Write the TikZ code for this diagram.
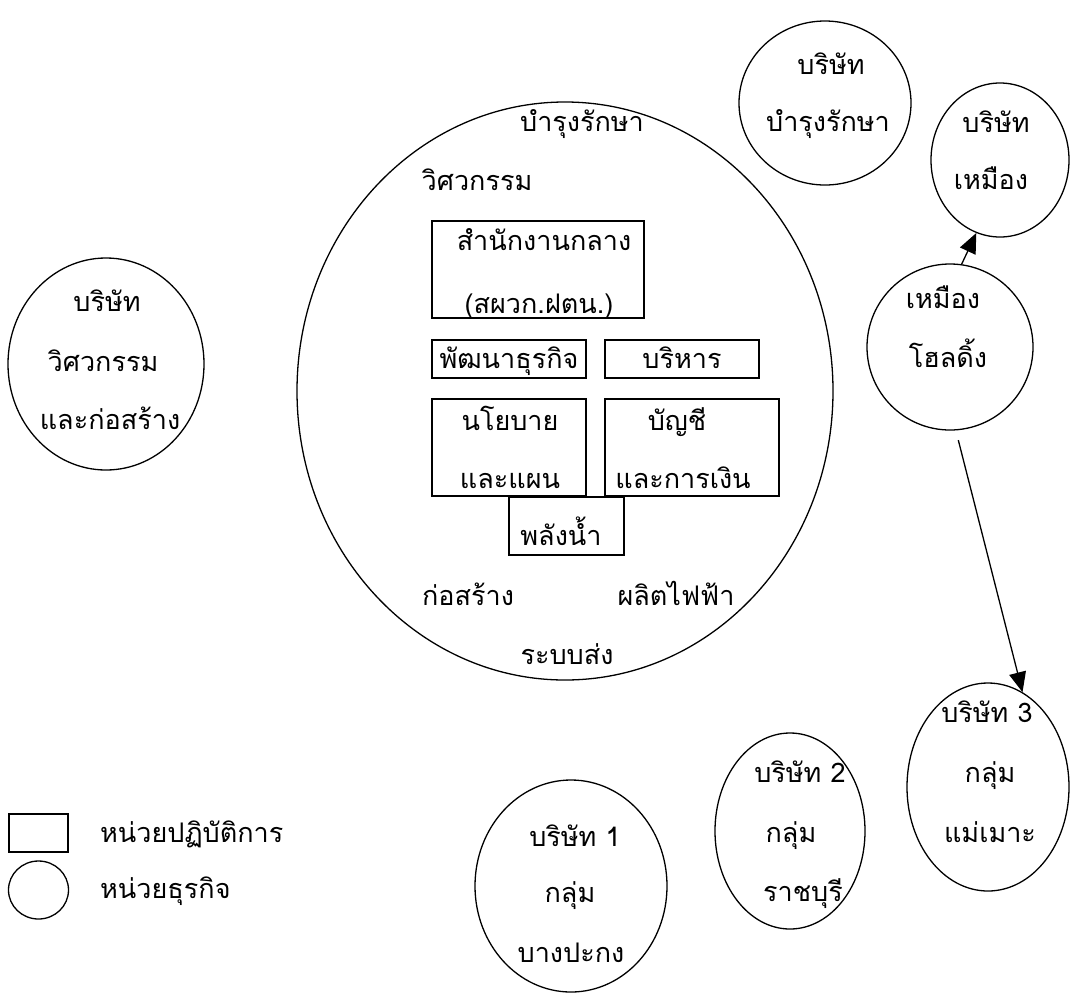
\documentclass[tikz,border=0pt]{standalone}
\usepackage{fontspec}
\newfontfamily\thai[Script=Thai]{Loma}
\usetikzlibrary{shapes.geometric,arrows.meta}
\begin{document}
\begin{tikzpicture}[x=1pt,y=-1pt,
  unit/.style={draw, line width=1.3pt, ellipse, inner sep=0pt},
  opbox/.style={draw, line width=1.3pt, rectangle, inner sep=0pt},
  lbl/.style={font=\thai\fontsize{27}{27}\selectfont, inner sep=0pt, anchor=base},
  lbll/.style={lbl, anchor=base west},
  arr/.style={line width=1.3pt, -{Triangle[length=20pt,width=17pt]}}]
\useasboundingbox (0,0) rectangle (1071,994);
% big circle
\node[unit, minimum width=536pt, minimum height=578pt] (egat) at (565,391) {};
\node[lbl] (t1) at (582,131) {บำรุงรักษา};
\node[lbl] (t2) at (477,190) {วิศวกรรม};
% boxes
\node[opbox, minimum width=212pt, minimum height=97pt] (central) at (538,269.5) {};
\node[lbl] (c1) at (544,250) {สำนักงานกลาง};
\node[lbl] (c2) at (539,313) {(สผวก.ฝตน.)};
\node[opbox, minimum width=154pt, minimum height=38pt] (dev) at (509,359) {};
\node[lbl] (d1) at (509,368) {พัฒนาธุรกิจ};
\node[opbox, minimum width=154pt, minimum height=38pt] (adm) at (682,359) {};
\node[lbl] (a1) at (682,368) {บริหาร};
\node[opbox, minimum width=154pt, minimum height=97pt] (pol) at (509,447.5) {};
\node[lbl] (p1) at (510,430) {นโยบาย};
\node[lbl] (p2) at (510,488) {และแผน};
\node[opbox, minimum width=174pt, minimum height=97pt] (acc) at (692,447.5) {};
\node[lbl] (f1) at (677,430) {บัญชี};
\node[lbl] (f2) at (683,488) {และการเงิน};
\node[opbox, minimum width=115pt, minimum height=58pt] (hyd) at (566.5,526) {};
\node[lbl] (h1) at (561,545) {พลังน้ำ};
\node[lbl] (t3) at (468,605) {ก่อสร้าง};
\node[lbl] (t4) at (676,605) {ผลิตไฟฟ้า};
\node[lbl] (t5) at (567,664) {ระบบส่ง};
% left company
\node[unit, minimum width=196pt, minimum height=212pt] (eng) at (106,364) {};
\node[lbl] (e1) at (107,311) {บริษัท};
\node[lbl] (e2) at (103,371) {วิศวกรรม};
\node[lbl] (e3) at (110,429) {และก่อสร้าง};
% maintenance company
\node[unit, minimum width=172pt, minimum height=164pt] (mnt) at (825,103) {};
\node[lbl] (m1) at (831,74) {บริษัท};
\node[lbl] (m2) at (828,131) {บำรุงรักษา};
% mine company
\node[unit, minimum width=138pt, minimum height=154pt] (mine) at (1000,160) {};
\node[lbl] (n1) at (996,132) {บริษัท};
\node[lbl] (n2) at (991,189) {เหมือง};
% holding
\node[unit, minimum width=166pt, minimum height=166pt] (hold) at (950,347) {};
\node[lbl] (o1) at (943,308) {เหมือง};
\node[lbl] (o2) at (948,367) {โฮลดิ้ง};
% group 3
\node[unit, minimum width=162pt, minimum height=208pt] (g3) at (988,787) {};
\node[lbl] (g31) at (987,722) {บริษัท 3};
\node[lbl] (g32) at (990,782) {กลุ่ม};
\node[lbl] (g33) at (990,842) {แม่เมาะ};
% group 2
\node[unit, minimum width=150pt, minimum height=196pt] (g2) at (790,831) {};
\node[lbl] (g21) at (800,782) {บริษัท 2};
\node[lbl] (g22) at (791,842) {กลุ่ม};
\node[lbl] (g23) at (803,901) {ราชบุรี};
% group 1
\node[unit, minimum width=192pt, minimum height=212pt] (g1) at (571,886) {};
\node[lbl] (g11) at (575,846) {บริษัท 1};
\node[lbl] (g12) at (570,902) {กลุ่ม};
\node[lbl] (g13) at (571,962) {บางปะกง};
% arrows
\draw[arr] (hold.82) -- (mine.252);
\draw[arr, shorten <=10pt] (hold.274) -- (g3.70);
% legend
\node[opbox, minimum width=59pt, minimum height=38pt] (lgr) at (38.5,833) {};
\node[lbll] (lt1) at (100,842) {หน่วยปฏิบัติการ};
\node[unit, minimum width=60pt, minimum height=58pt] (lgc) at (38.5,890) {};
\node[lbll] (lt2) at (100,898) {หน่วยธุรกิจ};
\end{tikzpicture}
\end{document}
